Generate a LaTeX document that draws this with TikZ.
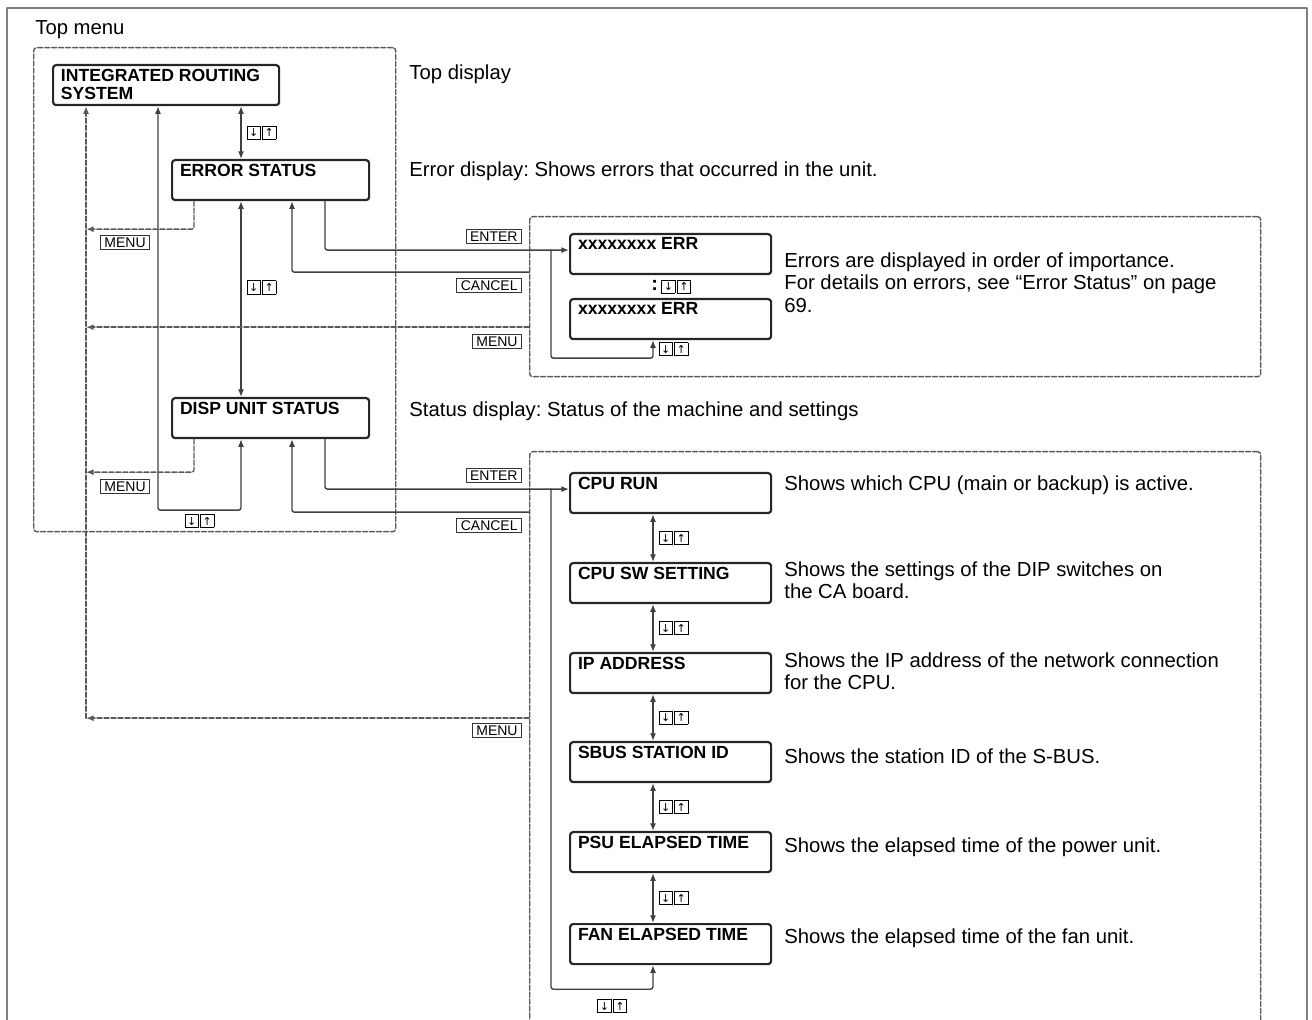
\documentclass[tikz,border=0pt]{standalone}
\usepackage{fontspec}
\setmainfont{Liberation Sans}
\newfontfamily\arrowfont{DejaVu Sans}
\usetikzlibrary{arrows.meta,positioning,calc}
\frenchspacing

\newcommand{\boxfont}{\fontsize{8.8}{9}\selectfont\bfseries}
\newcommand{\descfont}{\fontsize{10.15}{11.25}\selectfont}
\newcommand{\keyfont}{\fontsize{7}{8}\selectfont}
\newcommand{\keycap}[1]{{\setlength{\fboxsep}{0.4pt}\setlength{\fboxrule}{0.4pt}\fbox{\makebox[5.4pt]{\rule[-0.6pt]{0pt}{5.4pt}\arrowfont\fontsize{5.5}{6}\selectfont #1}}}}
\newcommand{\updn}{\keycap{↓}\hspace{0.8pt}\keycap{↑}}

\begin{document}
\begin{tikzpicture}[x=0.5pt, y=-0.5pt, line cap=round, line join=round, >={Latex[length=3.8pt,width=3pt]},
    disp/.style={draw=black!85, line width=1.1pt, rounded corners=1.5pt, anchor=north west,
        minimum width=100.5pt, minimum height=20pt, inner sep=0pt,
        label={[anchor=north west, inner sep=0pt, xshift=4.3pt, yshift=-2.2pt, font=\boxfont, align=left]north west:#1}},
    link/.style={draw=black!75, line width=0.7pt, rounded corners=1.2pt},
    back/.style={draw=black!65, line width=0.7pt, dash pattern=on 2.5pt off 1pt, rounded corners=1.2pt},
    area/.style={draw=black!65, line width=0.7pt, dash pattern=on 2.5pt off 1pt, rounded corners=1.5pt,
        anchor=north west, inner sep=0pt},
    key/.style={draw=black!80, line width=0.4pt, inner xsep=2pt, inner ysep=1pt, font=\keyfont,
        text height=5pt, text depth=0pt},
    keys/.style={inner sep=0pt},
    desc/.style={anchor=base west, inner sep=0pt, align=left, font=\descfont}]
    \clip (0,0) rectangle (1312,1020);

    % outer frame, open at the bottom
    \draw[black!50, line width=1pt] (7,1040) -- (7,8) -- (1307,8) -- (1307,1040);
    \node[desc] (title) at (35,35) {Top menu};

    % dashed areas
    \node[area, minimum width=181pt, minimum height=242pt] (topbox) at (33,47) {};
    \node[area, minimum width=365.5pt, minimum height=80pt] (errbox) at (529,216) {};
    \node[area, minimum width=365.5pt, minimum height=300pt] (statbox) at (529,451) {};

    % top menu
    \node[disp={INTEGRATED ROUTING\\SYSTEM}, minimum width=113pt] (irs) at (52,64) {};
    \node[disp=ERROR STATUS, minimum width=98.5pt] (errstat) at (171,159) {};
    \node[disp=DISP UNIT STATUS, minimum width=98.5pt] (disp) at (171,397) {};

    % error list
    \node[disp=xxxxxxxx ERR] (err1) at (569,233) {};
    \node[disp=xxxxxxxx ERR] (err2) at (569,298) {};

    % status list
    \node[disp=CPU RUN] (cpurun) at (569,472) {};
    \node[disp=CPU SW SETTING, below=23.9pt of cpurun] (cpusw) {};
    \node[disp=IP ADDRESS, below=23.9pt of cpusw] (ipaddr) {};
    \node[disp=SBUS STATION ID, below=23.4pt of ipaddr] (sbus) {};
    \node[disp=PSU ELAPSED TIME, below=23.9pt of sbus] (psu) {};
    \node[disp=FAN ELAPSED TIME, below=24.9pt of psu] (fan) {};

    % columns of the connectors
    \coordinate (mx) at (86,0);
    \coordinate (lx) at (158,0);
    \coordinate (cx) at (241,0);
    \coordinate (kx) at (292,0);
    \coordinate (ex) at (325,0);
    \coordinate (bx) at (551,0);
    \coordinate (ax) at (653,0);

    % up/down in the top menu
    \draw[link,<->] (irs.south -| cx) -- node[keys, right=2.5pt] (tk1) {\updn} (errstat.north -| cx);
    \draw[link,<->] (errstat.south -| cx) -- node[keys, right=2.5pt, pos=0.44] (tk2) {\updn} (disp.north -| cx);
    \draw[link,<->] (irs.south -| lx) |- node[keys, below=1.5pt, pos=0.75] (tk3) {\updn} ($(disp.south -| cx)+(0,71)$) -- (disp.south -| cx);

    % MENU back to the top
    \draw[back,->] ($(errstat.south west)+(23,0)$) |- ($(mx |- errstat.south)+(0,28)$) coordinate (m1);
    \node[key, anchor=north west] (menu1) at ($(m1)+(14,6)$) {MENU};
    \draw[back,->] ($(disp.south west)+(23,0)$) |- ($(mx |- disp.south)+(0,33)$) coordinate (m3);
    \node[key, anchor=north west] (menu3) at ($(m3)+(14,7)$) {MENU};
    \coordinate (m2) at ($(errbox.west |- err2.south)+(0,-13)$);
    \draw[back,->] (m2) -- (mx |- m2);
    \node[key, anchor=north east] (menu2) at ($(m2)+(-7,7)$) {MENU};
    \coordinate (m4) at ($(statbox.west |- ipaddr.south)+(0,24)$);
    \draw[back,->] (m4) -- (mx |- m4);
    \node[key, anchor=north east] (menu4) at ($(m4)+(-7,5)$) {MENU};
    \draw[back,->] (mx |- m4) -- (irs.south -| mx);

    % ENTER / CANCEL for the errors
    \coordinate (e1) at ($(errbox.west |- err1.west)+(0,-4)$);
    \draw[link,->] (errstat.south -| ex) |- ($(err1.west)+(0,-4)$);
    \node[key, anchor=south east] (enter1) at ($(e1)+(-7,-6)$) {ENTER};
    \coordinate (c1) at ($(errbox.west |- err1.south)+(0,-3)$);
    \draw[link,->] (c1) -| (errstat.south -| kx);
    \node[key, anchor=north east] (cancel1) at ($(c1)+(-7,6)$) {CANCEL};
    \node[keys, anchor=west] (ek1) at ($(err1.south -| ax)!0.5!(err2.north -| ax)+(-2,0)$) {\textbf{:}\,\updn};
    \draw[link,->] ($(bx |- err1.west)+(0,-4)$) |- ($(err2.south -| ax)+(0,18)$) -- node[keys, right=2.5pt] (ek2) {\updn} (err2.south -| ax);

    % ENTER / CANCEL for the status
    \coordinate (e2) at ($(statbox.west |- cpurun.west)+(0,-4)$);
    \draw[link,->] (disp.south -| ex) |- ($(cpurun.west)+(0,-4)$);
    \node[key, anchor=south east] (enter2) at ($(e2)+(-7,-6)$) {ENTER};
    \coordinate (c2) at ($(statbox.west |- cpurun.south)+(0,-2)$);
    \draw[link,->] (c2) -| (disp.south -| kx);
    \node[key, anchor=north east] (cancel2) at ($(c2)+(-7,6)$) {CANCEL};

    \draw[link,<->] (cpurun.south -| ax) -- node[keys, right=2.5pt] (sk1) {\updn} (cpusw.north -| ax);
    \draw[link,<->] (cpusw.south -| ax) -- node[keys, right=2.5pt] (sk2) {\updn} (ipaddr.north -| ax);
    \draw[link,<->] (ipaddr.south -| ax) -- node[keys, right=2.5pt] (sk3) {\updn} (sbus.north -| ax);
    \draw[link,<->] (sbus.south -| ax) -- node[keys, right=2.5pt] (sk4) {\updn} (psu.north -| ax);
    \draw[link,<->] (psu.south -| ax) -- node[keys, right=2.5pt] (sk5) {\updn} (fan.north -| ax);
    \draw[link,->] ($(bx |- cpurun.west)+(0,-4)$) |- node[keys, below=4.5pt, pos=0.8] (sk6) {\updn} ($(fan.south -| ax)+(0,24)$) -- (fan.south -| ax);

    % descriptions
    \node[desc] (d0) at (409,80) {Top display};
    \node[desc] (d1) at (409,177) {Error display: Shows errors that occurred in the unit.};
    \node[desc, anchor=north west] (d2) at (784,252) {Errors are displayed in order of importance.\\For details on errors, see “Error Status” on page\\69.};
    \node[desc] (d3) at (409,417) {Status display: Status of the machine and settings};
    \node[desc] (d4) at (784,491) {Shows which CPU (main or backup) is active.};
    \node[desc, anchor=north west] (d5) at (784,561) {Shows the settings of the DIP switches on\\the CA board.};
    \node[desc, anchor=north west] (d6) at (784,652) {Shows the IP address of the network connection\\for the CPU.};
    \node[desc] (d7) at (784,764) {Shows the station ID of the S-BUS.};
    \node[desc] (d8) at (784,852) {Shows the elapsed time of the power unit.};
    \node[desc] (d9) at (784,943) {Shows the elapsed time of the fan unit.};
\end{tikzpicture}
\end{document}
